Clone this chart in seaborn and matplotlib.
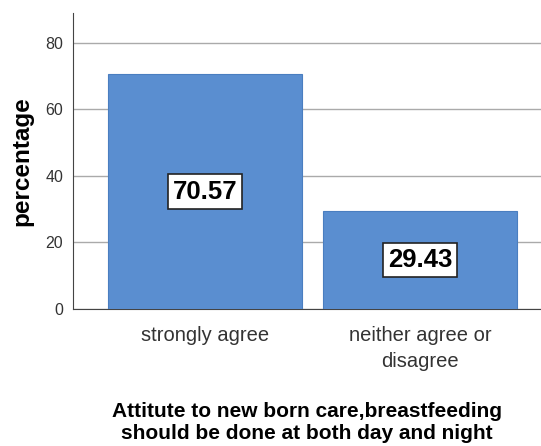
import matplotlib
matplotlib.use('Agg')
import matplotlib.pyplot as plt
import seaborn as sns
import pandas as pd

categories = ['strongly agree', 'neither agree or\ndisagree']
percentages = [70.57, 29.43]
y_ticks = [0, 20, 40, 60, 80]
x_title = 'Attitute to new born care,breastfeeding\nshould be done at both day and night'
y_title = 'percentage'

sns.set_style('white')
plt.rcParams['font.family'] = ['Liberation Sans', 'DejaVu Sans']

df = pd.DataFrame({'cat': categories, 'pct': percentages})

fig = plt.figure(figsize=(5.41, 4.46), dpi=100)
ax = fig.add_axes([0.135, 0.3072, 0.865, 0.6637])

sns.barplot(data=df, x='cat', y='pct', color='#5A8ED0', saturation=1,
            width=0.902, edgecolor='#4A7EC0', linewidth=0.8, ax=ax, zorder=3)

ax.set_ylim(0, 89)
ax.set_xlim(-0.614, 1.563)
ax.set_yticks(y_ticks)
ax.yaxis.grid(True, color='#aaaaaa', linewidth=1, zorder=0)
ax.set_axisbelow(True)
for s in ['top', 'right']:
    ax.spines[s].set_visible(False)
ax.spines['left'].set_color('#444444')
ax.spines['bottom'].set_color('#444444')
ax.tick_params(axis='y', length=0, labelsize=11.5, labelcolor='#333333', pad=7.2)
ax.tick_params(axis='x', length=0, labelsize=14.5, labelcolor='#333333', pad=12.5)
for t in ax.get_xticklabels():
    t.set_linespacing(1.45)

ax.set_ylabel(y_title, fontsize=17.5, fontweight='bold', labelpad=8.5, color='black')
ax.set_xlabel(x_title, fontsize=15, fontweight='bold', linespacing=1.2, color='black')
ax.xaxis.set_label_coords(0.499, -0.315)

for p, v in zip(ax.patches, percentages):
    ax.text(p.get_x() + p.get_width() / 2, v / 2, f'{v:.2f}', ha='center', va='center',
            fontsize=18.5, fontweight='bold', color='black', zorder=5,
            bbox=dict(boxstyle='square,pad=0.2', facecolor='white', edgecolor='#222222', linewidth=1.2))

fig.savefig('out.png', dpi=100)
